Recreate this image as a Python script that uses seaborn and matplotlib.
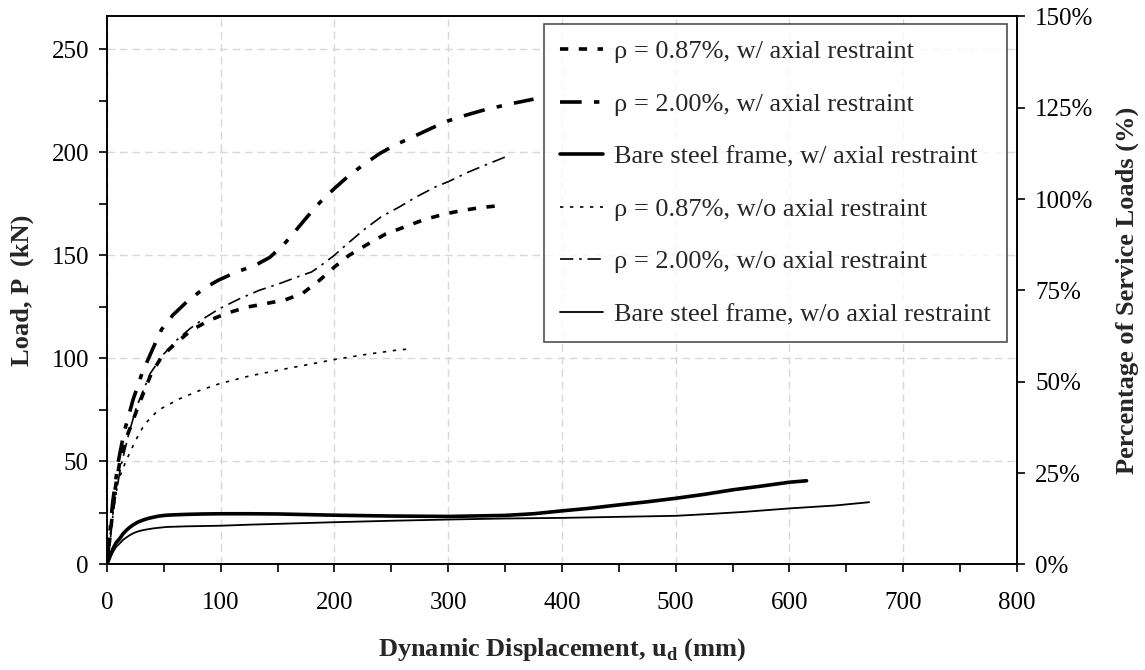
import matplotlib
matplotlib.use("Agg")
import matplotlib.pyplot as plt
import seaborn as sns
from matplotlib.ticker import MultipleLocator, PercentFormatter

# --- data (u in mm, P in kN) ---
u_087_w = [0, 3, 7, 12, 16, 21, 27, 32, 39, 49, 60, 74, 90, 106, 124, 140, 156, 172,
           187, 200, 213, 229, 245, 263, 279, 297, 313, 330, 350]
p_087_w = [0, 15, 36, 52, 60, 67, 76, 83, 92.6, 101.5, 107, 113.6, 118.4, 122, 124.9,
           126.6, 128.2, 131.5, 137.9, 144.3, 150, 155.3, 160.3, 164, 167.3, 170, 171.8,
           173.2, 174.3]

u_200_w = [0, 2, 5, 10, 15, 23, 31, 41, 48, 58, 70, 85, 98, 114, 130, 143, 155, 166, 176,
           187, 200, 212, 225, 240, 253, 269, 286, 300, 316, 333, 346, 359, 375]
p_200_w = [0, 12, 30, 50, 64, 80, 93, 105.5, 114, 121, 127.3, 133.8, 137.9, 141.9, 145,
           148.9, 154.9, 162, 168.6, 175.5, 182.4, 188.3, 193.7, 199.4, 203.4, 207.4,
           211.8, 215.2, 218, 220.7, 222.3, 223.9, 225.7]

u_bare_w = [0, 3, 5.5, 8, 11.4, 14, 17.3, 20, 23, 27, 32, 36, 40.6, 46, 52.4, 60, 70, 85,
            100, 125, 150, 200, 250, 300, 350, 375, 400, 425, 450, 475, 500, 525, 550,
            575, 600, 615]
p_bare_w = [0, 4.5, 7.9, 10.5, 12.7, 14.8, 16.7, 18, 19.2, 20.5, 21.6, 22.3, 22.9, 23.5,
            23.9, 24.1, 24.3, 24.5, 24.6, 24.6, 24.5, 23.9, 23.5, 23.3, 23.8, 24.6, 26,
            27.3, 28.9, 30.4, 32.1, 34, 36.2, 38, 39.9, 40.6]

u_087_wo = [0, 2, 4, 7, 10, 17, 25, 33, 45, 64, 82, 99, 125, 155, 181, 200, 228, 254, 265]
p_087_wo = [0, 10, 20, 31, 40.8, 50.5, 60, 68, 74.8, 80.4, 84.5, 87.7, 91.4, 94.7, 97.4,
            99.4, 101.9, 103.9, 104.5]

u_200_wo = [0, 3, 6, 12, 19, 26, 38, 49, 61, 73, 87, 99, 117, 134, 152, 169, 180, 188, 200,
            210, 225, 241, 257, 272, 289, 301, 318, 336, 354]
p_200_wo = [0, 12, 28, 47, 63, 76.4, 92.6, 101.5, 108.7, 114.4, 120, 124.1, 129, 133,
            136.3, 139.8, 141.9, 145, 150, 154.9, 162, 168.6, 173.4, 178.3, 183.2, 185.9,
            190.4, 194.5, 198.5]

u_bare_wo = [0, 3, 5.5, 8, 11.4, 14, 17.3, 20, 23, 27, 32, 40.6, 52.4, 70, 100, 125, 150,
             200, 250, 300, 350, 400, 450, 500, 530, 560, 600, 640, 670]
p_bare_wo = [0, 3.5, 6.2, 8.5, 10.3, 11.9, 13.2, 14.2, 15.1, 16, 16.7, 17.5, 18.2, 18.5,
             18.8, 19.3, 19.7, 20.5, 21.2, 21.8, 22.3, 22.6, 23.1, 23.6, 24.5, 25.5, 27.2,
             28.6, 30.2]

labels = [
    "ρ = 0.87%, w/ axial restraint",
    "ρ = 2.00%, w/ axial restraint",
    "Bare steel frame, w/ axial restraint",
    "ρ = 0.87%, w/o axial restraint",
    "ρ = 2.00%, w/o axial restraint",
    "Bare steel frame, w/o axial restraint",
]

sns.set_theme(style="white")
plt.rcParams["font.family"] = ["Liberation Serif", "DejaVu Serif"]
plt.rcParams["mathtext.fontset"] = "custom"
plt.rcParams["mathtext.rm"] = "Liberation Serif"
plt.rcParams["mathtext.bf"] = "Liberation Serif:bold"

fig, ax = plt.subplots(figsize=(11.45, 6.7), dpi=100)
fig.subplots_adjust(left=0.0934, right=0.8882, bottom=0.1575, top=0.9754)

# line styles: (linewidth, linestyle)
styles = [
    (2.6, (0, (2.3, 2.9))),
    (2.6, (0, (6, 3.4, 1.5, 3.4))),
    (2.6, "-"),
    (1.2, (0, (2, 4))),
    (1.2, (0, (8, 3.5, 1.5, 3.5))),
    (1.3, "-"),
]
series = [(u_087_w, p_087_w), (u_200_w, p_200_w), (u_bare_w, p_bare_w),
          (u_087_wo, p_087_wo), (u_200_wo, p_200_wo), (u_bare_wo, p_bare_wo)]

for (u, p), (lw, ls), lab in zip(series, styles, labels):
    sns.lineplot(x=u, y=p, ax=ax, color="black", lw=lw, linestyle=ls, label=lab,
                 sort=False, estimator=None)

ax.set_xlim(0, 800)
ax.set_ylim(0, 265.8)
ax.xaxis.set_major_locator(MultipleLocator(100))
ax.xaxis.set_minor_locator(MultipleLocator(50))
ax.yaxis.set_major_locator(MultipleLocator(50))
ax.yaxis.set_minor_locator(MultipleLocator(25))

ax.grid(which="major", color="#d8d8d8", linestyle=(0, (5.5, 3.5)), linewidth=1)
ax.set_axisbelow(True)

for s in ax.spines.values():
    s.set_color("black")
    s.set_linewidth(1.2)

ax.tick_params(which="both", direction="out", length=6, width=1.2, color="black",
               labelsize=18, labelcolor="black", bottom=True, left=True)
ax.tick_params(axis="x", which="both", pad=14)
ax.tick_params(axis="y", which="both", pad=7)

ax.set_xlabel(r"Dynamic Displacement, u$_\mathbf{d}$ (mm)", fontsize=19, fontweight="bold")
ax.set_ylabel("Load, P  (kN)", fontsize=19, fontweight="bold")
ax.xaxis.set_label_coords(0.5, -0.13)
ax.yaxis.set_label_coords(-0.080, 0.5)

ax2 = ax.twinx()
ax2.set_ylim(0, 150)
ax2.yaxis.set_major_locator(MultipleLocator(25))
ax2.yaxis.set_major_formatter(PercentFormatter(decimals=0))
ax2.tick_params(axis="y", direction="out", length=6, width=1.2, color="black",
                labelsize=18, labelcolor="black", right=True, pad=7)
for s in ax2.spines.values():
    s.set_color("black")
    s.set_linewidth(1.2)
ax2.set_ylabel("Percentage of Service Loads (%)", fontsize=19, fontweight="bold")
ax2.yaxis.set_label_coords(1.108, 0.5)
ax2.grid(False)

leg = ax.legend(loc="upper right", bbox_to_anchor=(0.989, 0.986), borderaxespad=0,
                fontsize=19, frameon=True, fancybox=False, edgecolor="#222222",
                handlelength=1.6, handletextpad=0.45, labelspacing=1.1, borderpad=0.6)
leg.get_frame().set_linewidth(1.2)
leg.set_zorder(5)

fig.savefig("out.png", dpi=100)
